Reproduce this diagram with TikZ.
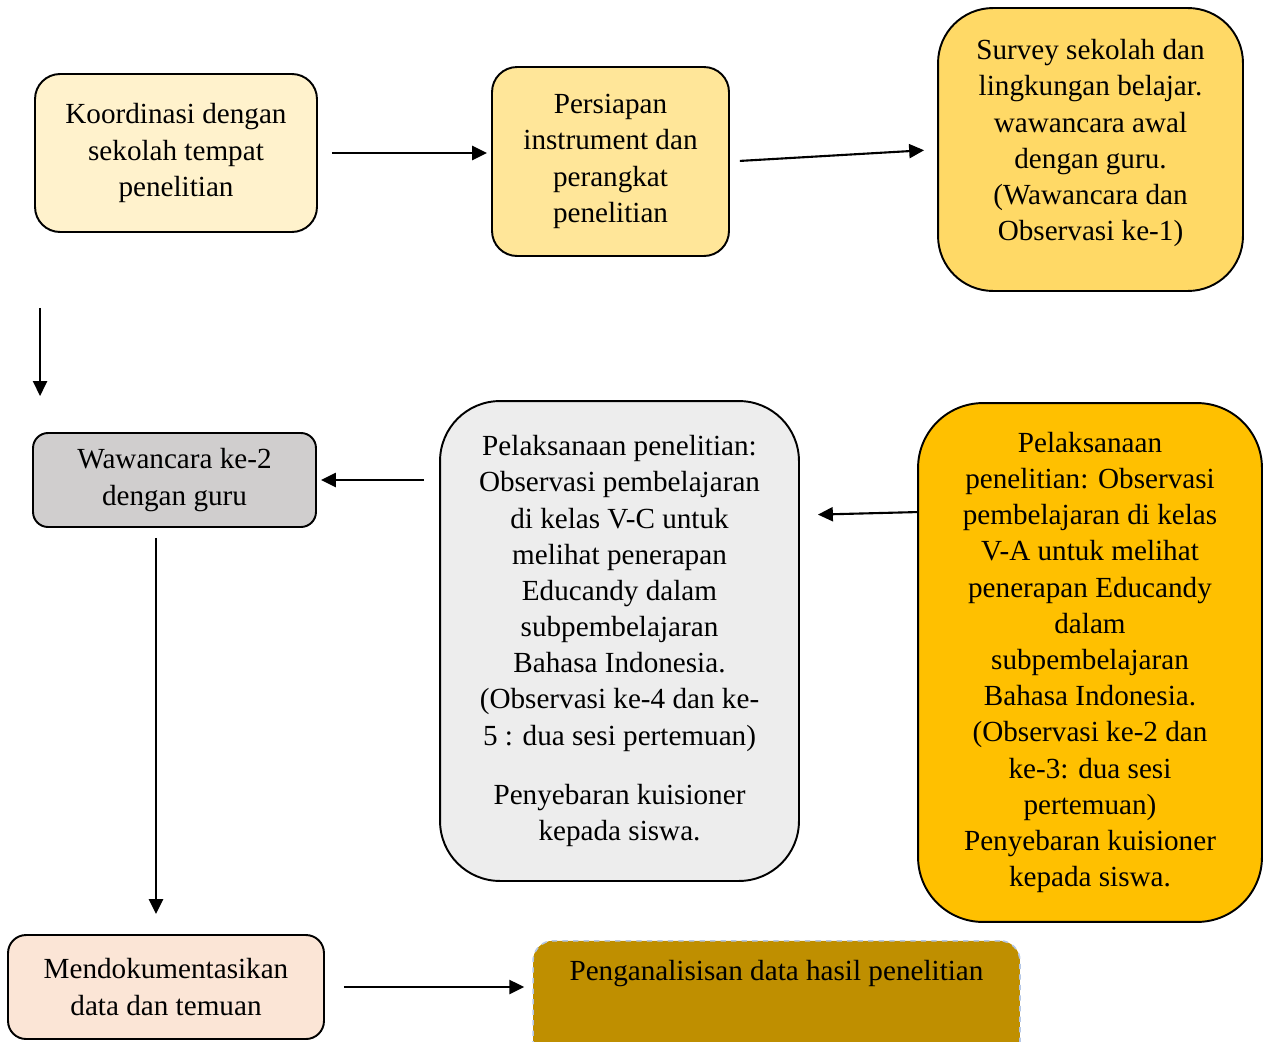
\documentclass[tikz,border=0pt]{standalone}
\usepackage{fontspec}
\setmainfont{Liberation Serif}
\usetikzlibrary{positioning, arrows.meta}

\definecolor{koordfill}{HTML}{FFF2CC}
\definecolor{persfill}{HTML}{FFE699}
\definecolor{survfill}{HTML}{FFD966}
\definecolor{wawfill}{HTML}{D0CECE}
\definecolor{vcfill}{HTML}{EDEDED}
\definecolor{vafill}{HTML}{FFC000}
\definecolor{dokfill}{HTML}{FBE5D6}
\definecolor{analfill}{HTML}{BF8F00}
\definecolor{analline}{HTML}{B4C7E7}

\begin{document}
\begin{tikzpicture}[
    x=0.02cm, y=-0.02cm,
    font=\fontsize{16.6}{20.6}\selectfont,
    box/.style={draw, line width=1.1pt, align=center, inner sep=0pt},
    arr/.style={-{Triangle[length=8.5pt,width=8pt]}, line width=1.2pt}
]
\useasboundingbox (0,0) rectangle (1263,1041);
\clip (0,0) rectangle (1263,1041);

  % Top row
  \node[box, fill=koordfill, rounded corners=0.5cm, minimum width=5.64cm, minimum height=3.16cm] (koord) at (176,153) {Koordinasi dengan\\ sekolah tempat\\ penelitian};
  \node[box, fill=persfill, rounded corners=0.5cm, minimum width=4.74cm, minimum height=3.78cm] (pers) at (610.5,161.5) {Persiapan\\ instrument dan\\ perangkat\\ penelitian};
  \node[box, fill=survfill, rounded corners=1.1cm, minimum width=6.1cm, minimum height=5.66cm] (surv) at (1090.5,149.5) {Survey sekolah dan\\ lingkungan belajar.\\ wawancara awal\\ dengan guru.\\ (Wawancara dan\\ Observasi ke-1)\\[-0.35cm]};

  % Middle row
  \node[box, fill=wawfill, rounded corners=0.3cm, minimum width=5.66cm, minimum height=1.88cm] (waw) at (174.5,480) {Wawancara ke-2\\ dengan guru};
  \node[box, fill=vcfill, rounded corners=1.2cm, minimum width=7.18cm, minimum height=9.6cm] (vc) at (619.5,641) {Pelaksanaan penelitian:\\ Observasi pembelajaran\\ di kelas V-C untuk\\ melihat penerapan\\ Educandy dalam\\ subpembelajaran\\ Bahasa Indonesia.\\ (Observasi ke-4 dan ke-\\ 5 : dua sesi pertemuan)\\[13pt] Penyebaran kuisioner\\ kepada siswa.};
  \node[box, fill=vafill, rounded corners=1.3cm, minimum width=6.88cm, minimum height=10.38cm] (va) at (1090,662.5) {Pelaksanaan\\ penelitian: Observasi\\ pembelajaran di kelas\\ V-A untuk melihat\\ penerapan Educandy\\ dalam\\ subpembelajaran\\ Bahasa Indonesia.\\ (Observasi ke-2 dan\\ ke-3: dua sesi\\ pertemuan)\\ Penyebaran kuisioner\\ kepada siswa.};

  % Bottom row
  \node[box, fill=dokfill, rounded corners=0.36cm, minimum width=6.32cm, minimum height=2.08cm] (dok) at (166,987) {Mendokumentasikan\\ data dan temuan};
  \node[box, draw=analline, dashed, line width=0.9pt, fill=analfill, rounded corners=0.4cm, minimum width=9.74cm, text height=0.8cm, text depth=1.8cm, anchor=north] (anal) at (776.5,940) {Penganalisisan data hasil penelitian};

  % Arrows
  \draw[arr, shorten <=0.28cm, shorten >=0.08cm] (koord.east) -- (koord.east -| pers.west);
  \draw[arr, shorten <=0.2cm, shorten >=0.26cm] (pers.east) -- (surv.west);
  \draw[arr, shorten <=1.5cm, shorten >=0.72cm] ([xshift=0.12cm]koord.south west) -- ([xshift=0.12cm]koord.south west |- waw.north);
  \draw[arr, shorten <=0.3cm, shorten >=0.08cm] (vc.west |- waw.east) -- (waw.east);
  \draw[arr, shorten >=0.36cm] ([yshift=-2.2cm]va.north west) -- ([yshift=-2.3cm]vc.north east);
  \draw[arr, shorten <=0.2cm, shorten >=0.4cm] ([xshift=-0.37cm]waw.south) -- ([xshift=-0.37cm]waw.south |- dok.north);
  \draw[arr, shorten <=0.38cm, shorten >=0.16cm] (dok.east) -- (dok.east -| anal.west);
\end{tikzpicture}
\end{document}
